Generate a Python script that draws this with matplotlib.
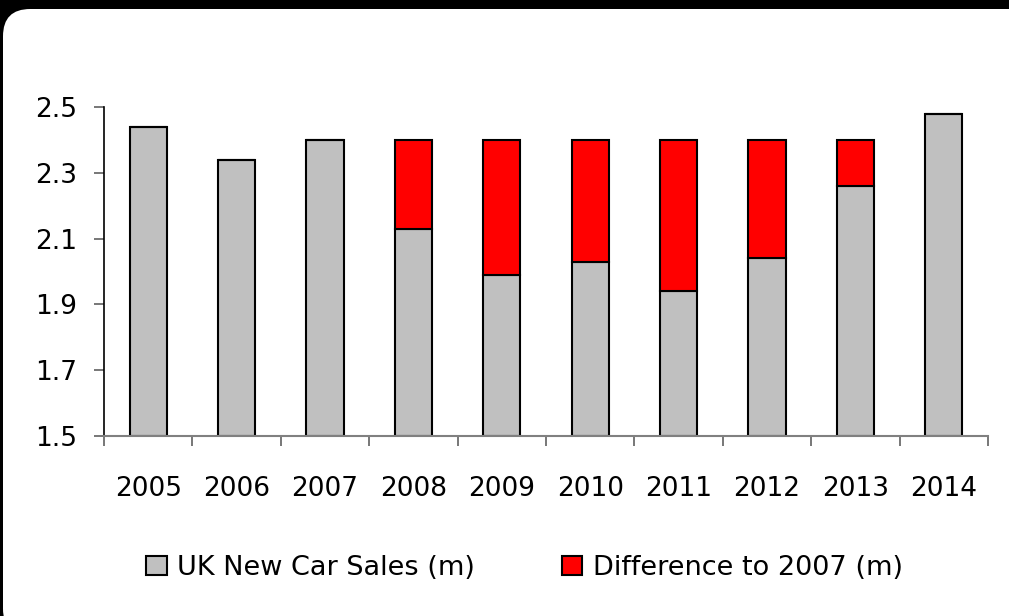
import numpy as np
import matplotlib
matplotlib.use("Agg")
import matplotlib.pyplot as plt
from matplotlib.patches import FancyBboxPatch

# UK new car sales, millions
years = ['2005', '2006', '2007', '2008', '2009', '2010', '2011', '2012', '2013', '2014']
sales = [2.44, 2.34, 2.40, 2.13, 1.99, 2.03, 1.94, 2.04, 2.26, 2.48]
base_2007 = 2.40
# shortfall against 2007, only for the years after it that fell below
diff = [0, 0, 0] + [round(base_2007 - s, 2) for s in sales[3:9]] + [0]

plt.rcParams['font.family'] = ['DejaVu Sans']

W, H = 1009, 616
fig = plt.figure(figsize=(W / 100, H / 100), dpi=100)
fig.patch.set_facecolor('black')

# white rounded panel behind the chart
panel = FancyBboxPatch((3 / W, -20 / H), 1.2, (H - 9 + 20) / H,
                       boxstyle="round,pad=0,rounding_size=0.027",
                       transform=fig.transFigure, facecolor='white',
                       edgecolor='none', zorder=-10,
                       mutation_aspect=W / H)
fig.patches.append(panel)

ax = fig.add_axes([104 / W, 1 - 436 / H, (988 - 104) / W, (436 - 107) / H])
ax.set_facecolor('none')

x = np.arange(len(years))
ax.bar(x, np.array(sales) - 1.5, bottom=1.5, width=0.42, color='#C0C0C0',
       edgecolor='black', linewidth=1.5, label='UK New Car Sales (m)')
ax.bar(x, diff, bottom=sales, width=0.42, color='#FF0000',
       edgecolor='black', linewidth=1.5, label='Difference to 2007 (m)')

ax.set_xlim(-0.5, len(years) - 0.5)
ax.set_ylim(1.5, 2.5)
ax.set_yticks([1.5, 1.7, 1.9, 2.1, 2.3, 2.5])
ax.set_yticklabels(['1.5', '1.7', '1.9', '2.1', '2.3', '2.5'])
ax.set_xticks(x)
ax.set_xticklabels(years)
ax.set_xticks(np.arange(-0.5, len(years)), minor=True)

for s in ['top', 'right']:
    ax.spines[s].set_visible(False)
ax.spines['left'].set_color('black')
ax.spines['bottom'].set_color('#808080')
ax.spines['left'].set_linewidth(1.2)
ax.spines['bottom'].set_linewidth(1.5)

ax.tick_params(axis='y', direction='out', length=7, width=1.2, color='#606060',
               labelsize=19, pad=12)
ax.tick_params(axis='x', which='major', length=0, labelsize=19, pad=29)
ax.tick_params(axis='x', which='minor', direction='out', length=7, width=1.2,
               color='#606060')

fig.legend(loc='center', bbox_to_anchor=(0.52, 1 - 568 / H), ncol=2,
           frameon=False, fontsize=19.5, handlelength=0.75, handleheight=0.75,
           handletextpad=0.4, columnspacing=3.2)

fig.savefig('out.png', dpi=100, facecolor=fig.get_facecolor())
